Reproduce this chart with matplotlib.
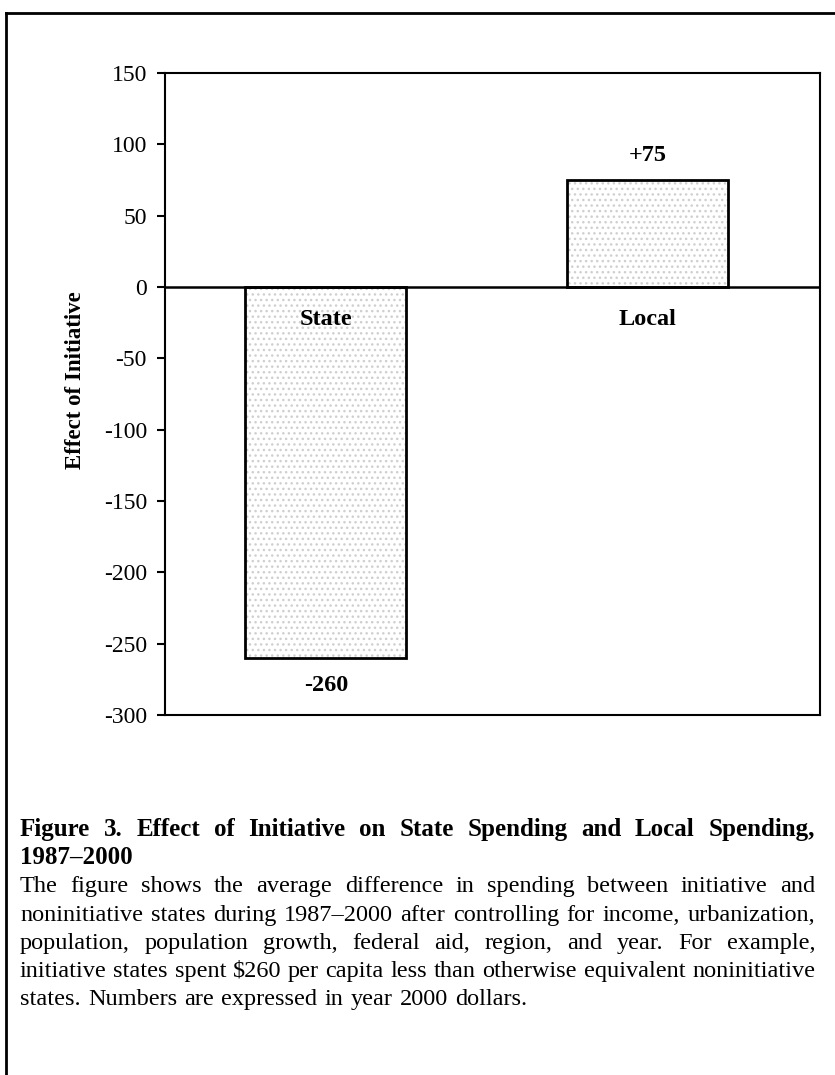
import matplotlib.pyplot as plt
from matplotlib.lines import Line2D

# DATA
categories = ['State', 'Local']
effects = [-260, 75]
value_labels = ['-260', '+75']
yticks = [150, 100, 50, 0, -50, -100, -150, -200, -250, -300]

title_lines = ['Figure 3. Effect of Initiative on State Spending and Local Spending,',
               '1987\u20132000']
body_lines = ['The figure shows the average difference in spending between initiative and',
              'noninitiative states during 1987\u20132000 after controlling for income, urbanization,',
              'population, population growth, federal aid, region, and year.  For example,',
              'initiative states spent \\$260 per capita less than otherwise equivalent noninitiative',
              'states.  Numbers are expressed in year 2000 dollars.']

plt.rcParams['font.family'] = 'Liberation Serif'

W, H = 835, 1075
fig = plt.figure(figsize=(W / 100, H / 100), dpi=100)
ax = fig.add_axes([165 / W, 1 - 715 / H, 655 / W, 642 / H])

x = range(len(categories))
# halftone-like shading, then black outline
ax.bar(x, effects, width=0.5, color='white', edgecolor='#cfcfcf', hatch='...', linewidth=0, zorder=2)
ax.bar(x, effects, width=0.5, fill=False, edgecolor='black', linewidth=2, zorder=3)
ax.axhline(0, color='black', linewidth=1.8, zorder=4)

for i, (cat, v, lab) in enumerate(zip(categories, effects, value_labels)):
    ax.text(i, -23, cat, ha='center', va='center', fontsize=17.5, fontweight='bold', zorder=5)
    off = -19 if v < 0 else 17
    ax.text(i, v + off, lab, ha='center', va='center', fontsize=17.5, fontweight='bold')

ax.set_xlim(-0.5, 1.537)
ax.set_ylim(-300, 150)
ax.set_xticks([])
ax.set_yticks(yticks)
ax.set_yticklabels([str(t) for t in yticks], fontsize=17)
ax.tick_params(axis='y', direction='out', length=6, width=1.5, pad=7)
for s in ax.spines.values():
    s.set_linewidth(1.5)
ax.set_ylabel('Effect of Initiative', fontsize=16.5, fontweight='bold')
ax.yaxis.set_label_coords((86 - 165) / 655, 1 - (380 - 73) / 642)

# outer frame of the figure page
fig.add_artist(Line2D([6 / W, 1], [1 - 13 / H, 1 - 13 / H], color='black', lw=2))
fig.add_artist(Line2D([6 / W, 6 / W], [0, 1 - 13 / H], color='black', lw=2))

renderer = fig.canvas.get_renderer()


def justified(line, y_px, x0=20, x1=815, justify=True, **kw):
    # y_px is the baseline in pixels from the top
    words = line.split()
    arts = [fig.text(0, 1 - y_px / H, w, va='baseline', ha='left', **kw) for w in words]
    widths = [a.get_window_extent(renderer).width for a in arts]
    if justify and len(words) > 1:
        gap = (x1 - x0 - sum(widths)) / (len(words) - 1)
    else:
        gap = arts[0].get_fontsize() * 0.3 * 100 / 72
    xp = x0
    for a, w in zip(arts, widths):
        a.set_x(xp / W)
        xp += w + gap


justified(title_lines[0], 836, fontsize=18, fontweight='bold')
justified(title_lines[1], 864, justify=False, fontsize=18, fontweight='bold')
ys = [892, 921, 949, 977, 1005]
for i, (ln, y) in enumerate(zip(body_lines, ys)):
    justified(ln, y, justify=(i < len(body_lines) - 1), fontsize=17.5)

fig.savefig('out.png', dpi=100)
